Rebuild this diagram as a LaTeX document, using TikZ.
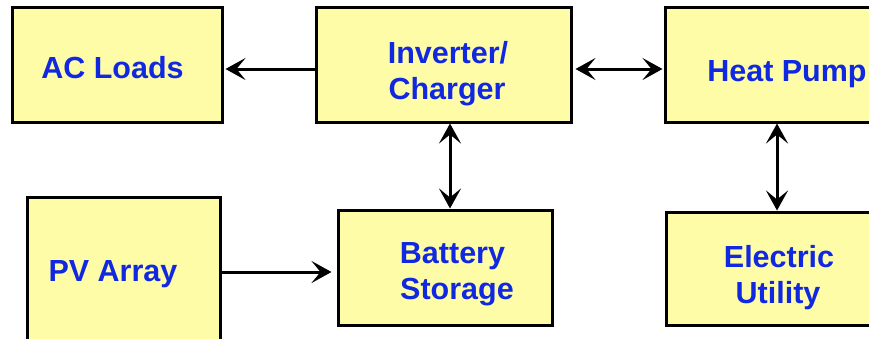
\documentclass[tikz,border=0pt]{standalone}
\usepackage{fontspec}
\setmainfont{Liberation Sans}
\usetikzlibrary{arrows.meta}
\definecolor{boxfill}{RGB}{255,252,168}
\definecolor{txtblue}{RGB}{16,40,224}
\tikzset{
  blk/.style={draw=black, line width=3pt, fill=boxfill, inner sep=0pt},
  lbl/.style={anchor=base, inner sep=0pt, text=txtblue,
    font=\fontsize{30.5}{36}\selectfont\bfseries},
  myhead/.tip={Stealth[length=20pt,width=22pt,inset=9pt]},
  linkone/.style={draw=black, line width=3pt, -myhead},
  linktwo/.style={draw=black, line width=3pt, myhead-myhead}
}
\begin{document}
\begin{tikzpicture}[x=1pt,y=-1pt]
\useasboundingbox (0,0) rectangle (869,338);
\clip (0,0) rectangle (869,338);
% boxes
\node[blk, minimum width=210pt, minimum height=115pt] (ac) at (117,64.5) {};
\node[blk, minimum width=255pt, minimum height=115pt] (inv) at (443.5,64.5) {};
\node[blk, minimum width=242pt, minimum height=115pt] (hp) at (786,64.5) {};
\node[blk, minimum width=193pt, minimum height=150pt] (pv) at (123.5,272) {};
\node[blk, minimum width=214pt, minimum height=115pt] (bat) at (445,267.5) {};
\node[blk, minimum width=224pt, minimum height=113pt] (eu) at (778,268.5) {};
% labels
\node[lbl] (acT) at (112.5,78) {AC Loads};
\node[lbl] (invT1) at (448,63) {Inverter/};
\node[lbl] (invT2) at (447,99) {Charger};
\node[lbl] (hpT) at (787,81) {Heat Pump};
\node[lbl] (pvT) at (113,281) {PV Array};
\node[lbl] (batT1) at (452.5,263) {Battery};
\node[lbl] (batT2) at (457,299) {Storage};
\node[lbl] (euT1) at (779,267) {Electric};
\node[lbl] (euT2) at (778,303) {Utility};
% connectors
\draw[linkone, shorten >=2pt] (inv.west |- 0,69) -- (ac.east |- 0,69);
\draw[linktwo, shorten <=3pt, shorten >=1pt] (inv.east |- 0,69) -- (hp.west |- 0,69);
\draw[linktwo] (inv.south -| 450,0) -- (bat.north -| 450,0);
\draw[linktwo] (hp.south -| 777,0) -- (eu.north -| 777,0);
\draw[linkone, shorten >=5pt] (pv.east |- 0,272) -- (bat.west |- 0,272);
\end{tikzpicture}
\end{document}
